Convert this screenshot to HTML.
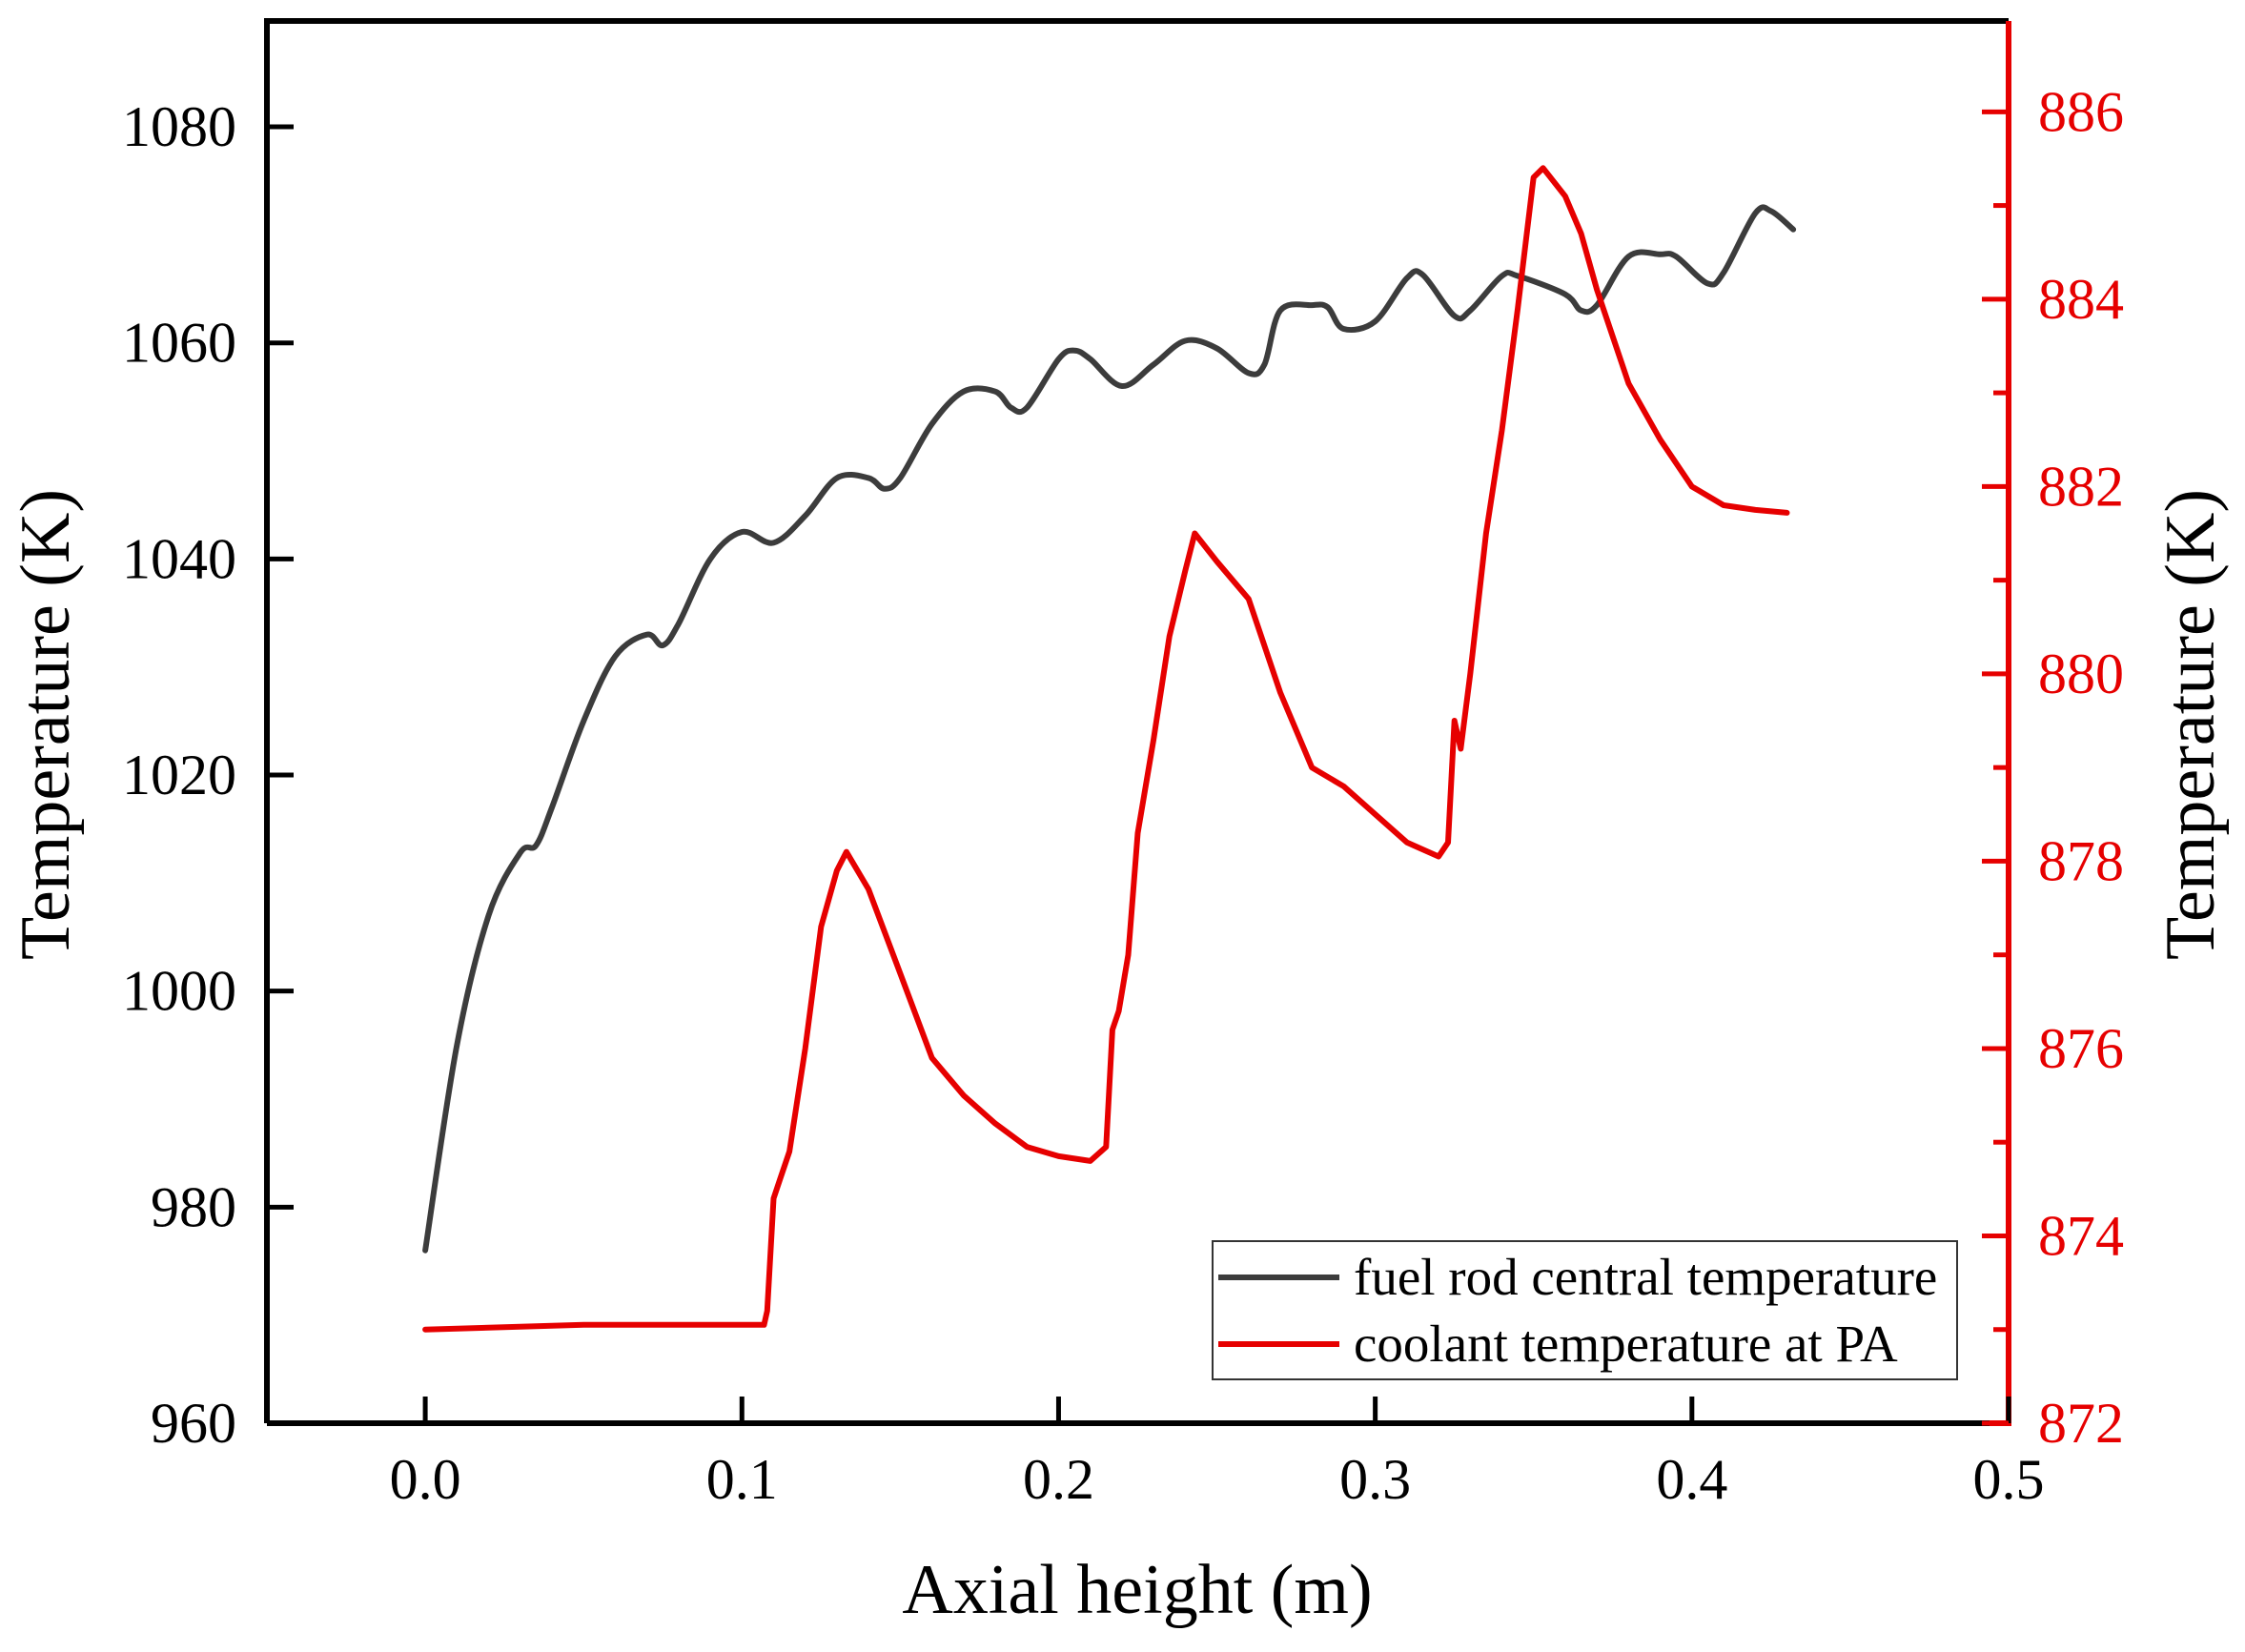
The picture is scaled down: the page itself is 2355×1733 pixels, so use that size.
<!DOCTYPE html>
<html><head><meta charset="utf-8"><style>
html,body{margin:0;padding:0;background:#fff}
svg{display:block;font-family:"Liberation Serif",serif}
</style></head><body>
<svg id="chart" width="2355" height="1733" viewBox="0 0 2355 1733" xmlns="http://www.w3.org/2000/svg">
<g id="plot"></g>
</svg>
<script>
const xTicks=[0.0,0.1,0.2,0.3,0.4,0.5];
const xTickLabels=["0.0","0.1","0.2","0.3","0.4","0.5"];
const yLeftTicks=[960,980,1000,1020,1040,1060,1080];
const yRightTicks=[872,874,876,878,880,882,884,886];
const yRightMinor=[873,875,877,879,881,883,885];
const fuelX=[0,0.01,0.02,0.03,0.035,0.04,0.05,0.06,0.07,0.075,0.08,0.09,0.1,0.11,0.12,0.13,0.14,0.145,0.15,0.16,0.17,0.18,0.185,0.19,0.2,0.205,0.21,0.22,0.23,0.24,0.25,0.26,0.265,0.27,0.28,0.285,0.29,0.3,0.31,0.315,0.325,0.33,0.34,0.345,0.36,0.365,0.37,0.38,0.39,0.395,0.405,0.41,0.42,0.425,0.432];
const fuelY=[976,995,1007,1012.8,1013.5,1017,1025,1031,1033,1032,1034,1040,1042.5,1041.5,1044,1047.5,1047.5,1046.5,1047.5,1052.5,1055.5,1055.5,1054,1054,1058.5,1059.3,1058.5,1056,1058,1060.2,1059.5,1057.2,1058,1063,1063.5,1063.3,1061.3,1062,1066,1066.3,1062.5,1063,1066.2,1066.2,1064.5,1063,1063.5,1068,1068.2,1068,1065.5,1066.5,1072,1072.2,1070.5];
const coolX=[0,0.05,0.107,0.108,0.11,0.112,0.115,0.12,0.125,0.13,0.133,0.14,0.15,0.16,0.17,0.18,0.19,0.2,0.21,0.215,0.217,0.219,0.222,0.225,0.23,0.235,0.24,0.243,0.25,0.26,0.27,0.28,0.29,0.3,0.31,0.32,0.323,0.325,0.327,0.33,0.335,0.34,0.345,0.35,0.353,0.36,0.365,0.37,0.38,0.39,0.4,0.41,0.42,0.43];
const coolY=[873,873.05,873.05,873.2,874.4,874.6,874.9,876,877.3,877.9,878.1,877.7,876.8,875.9,875.5,875.2,874.95,874.85,874.8,874.95,876.2,876.4,877,878.3,879.3,880.4,881.1,881.5,881.2,880.8,879.8,879,878.8,878.5,878.2,878.05,878.2,879.5,879.2,880,881.5,882.6,883.9,885.3,885.4,885.1,884.7,884.1,883.1,882.5,882,881.8,881.75,881.72];

const L=280,R=2107,T=22,B=1493;
const X0=-0.05,X1=0.5,YL0=960,YL1=1089.8,YR0=872,YR1=886.97;
const sx=v=>L+(v-X0)/(X1-X0)*(R-L);
const syL=v=>B-(v-YL0)/(YL1-YL0)*(B-T);
const syR=v=>B-(v-YR0)/(YR1-YR0)*(B-T);
const NS="http://www.w3.org/2000/svg";
const g=document.getElementById('plot');
function mk(tag,attrs,text){const e=document.createElementNS(NS,tag);for(const k in attrs)e.setAttribute(k,attrs[k]);if(text!==undefined)e.textContent=text;g.appendChild(e);return e;}
function smooth(pts){
  let d='M'+pts[0][0].toFixed(1)+','+pts[0][1].toFixed(1);
  for(let i=0;i<pts.length-1;i++){
    const p0=pts[Math.max(0,i-1)],p1=pts[i],p2=pts[i+1],p3=pts[Math.min(pts.length-1,i+2)];
    const k=1/6;
    const c1=[p1[0]+(p2[0]-p0[0])*k,p1[1]+(p2[1]-p0[1])*k];
    const c2=[p2[0]-(p3[0]-p1[0])*k,p2[1]-(p3[1]-p1[1])*k];
    d+='C'+c1[0].toFixed(1)+','+c1[1].toFixed(1)+' '+c2[0].toFixed(1)+','+c2[1].toFixed(1)+' '+p2[0].toFixed(1)+','+p2[1].toFixed(1);
  }
  return d;
}

let e;
e=mk('path',{d:smooth(fuelX.map((x,i)=>[sx(x),syL(fuelY[i])])),fill:'none',stroke:'#3c3c3c','stroke-width':6,'stroke-linejoin':'round','stroke-linecap':'round'});


e=mk('path',{d:coolX.map((x,i)=>(i?'L':'M')+sx(x).toFixed(1)+','+syR(coolY[i]).toFixed(1)).join(''),fill:'none',stroke:'#e60000','stroke-width':6,'stroke-linejoin':'round','stroke-linecap':'round'});



e=mk('path',{d:`M${L},${B}L${L},${T}L${R},${T}`,fill:'none',stroke:'#000','stroke-width':6});


e=mk('line',{x1:L,y1:B,x2:R-20,y2:B,stroke:'#000','stroke-width':6});


e=mk('path',{d:`M${R-20},${B}L${R},${B}L${R},${T}`,fill:'none',stroke:'#e60000','stroke-width':6});



xTicks.forEach((v,i)=>{
  const t=mk('line',{x1:sx(v),y1:B,x2:sx(v),y2:B-28,stroke:'#000','stroke-width':5});
  
  
  const l=mk('text',{x:sx(v),y:1572,'font-size':60,'text-anchor':'middle',fill:'#000'},xTickLabels[i]);
  
  
});
yLeftTicks.forEach(v=>{
  if(v>YL0){const t=mk('line',{x1:L,y1:syL(v),x2:L+28,y2:syL(v),stroke:'#000','stroke-width':5});
  
  }
  const l=mk('text',{x:248,y:syL(v)+20,'font-size':60,'text-anchor':'end',fill:'#000'},String(v));
  
  
});
yRightTicks.forEach(v=>{
  const t=mk('line',{x1:R,y1:syR(v),x2:R-28,y2:syR(v),stroke:'#e60000','stroke-width':5});
  
  
  const l=mk('text',{x:2138,y:syR(v)+20,'font-size':60,'text-anchor':'start',fill:'#e60000'},String(v));
  
  
});
yRightMinor.forEach(v=>{
  const t=mk('line',{x1:R,y1:syR(v),x2:R-16,y2:syR(v),stroke:'#e60000','stroke-width':5});
  
  
});

e=mk('text',{x:1193,y:1692,'font-size':74,'text-anchor':'middle',fill:'#000'},'Axial height (m)');


e=mk('text',{x:0,y:0,'font-size':74,'text-anchor':'middle',fill:'#000',transform:'translate(72,760) rotate(-90)'},'Temperature (K)');


e=mk('text',{x:0,y:0,'font-size':74,'text-anchor':'middle',fill:'#000',transform:'translate(2322,760) rotate(-90)'},'Temperature (K)');



e=mk('rect',{x:1272,y:1302,width:781,height:145,fill:'#fff',stroke:'#333','stroke-width':2});


e=mk('line',{x1:1278,y1:1340,x2:1405,y2:1340,stroke:'#3c3c3c','stroke-width':6});


e=mk('text',{x:1420,y:1358,'font-size':55,fill:'#000'},'fuel rod central temperature');


e=mk('line',{x1:1278,y1:1410,x2:1405,y2:1410,stroke:'#e60000','stroke-width':6});


e=mk('text',{x:1420,y:1428,'font-size':55,fill:'#000'},'coolant temperature at PA');


</script>
</body></html>
